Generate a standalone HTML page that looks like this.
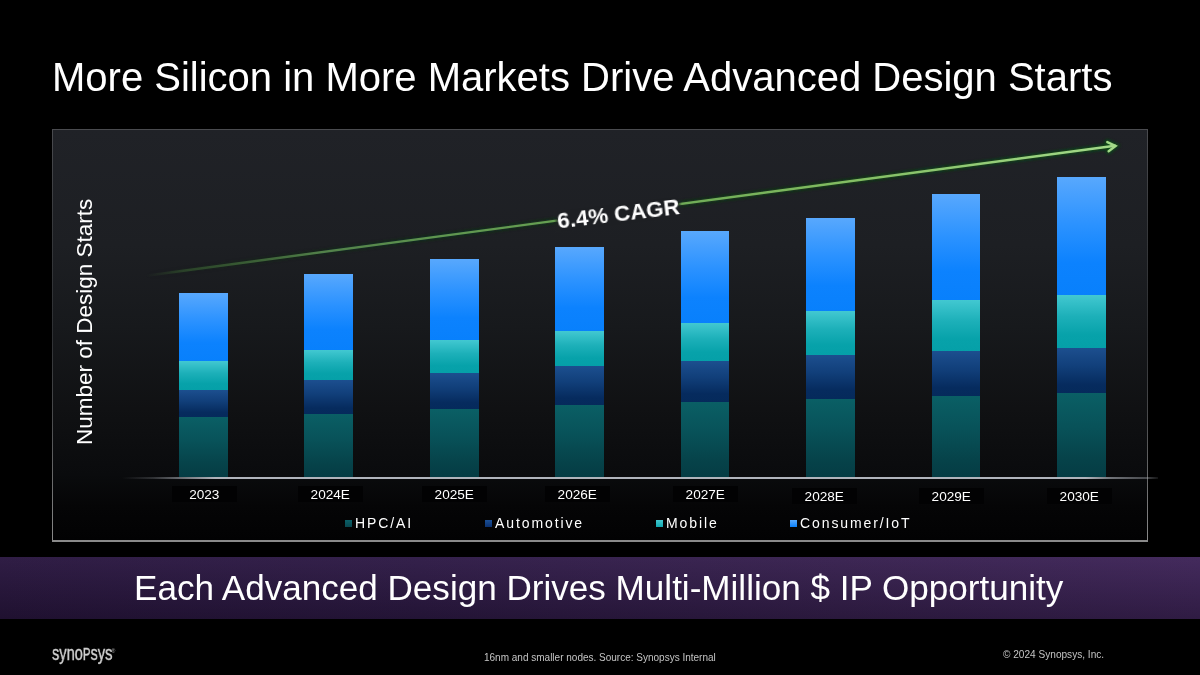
<!DOCTYPE html>
<html><head><meta charset="utf-8">
<style>
*{margin:0;padding:0;box-sizing:border-box}
html,body{width:1200px;height:675px;overflow:hidden;background:#000}
body{position:relative;font-family:"Liberation Sans",sans-serif;color:#fff}
#title,#sub,.lbl,.leg,#foot,#copy,#logo,#ylab,#cagr{will-change:transform}
.abs{position:absolute}
#title{left:52px;top:52.5px;font-size:40px;line-height:48px;white-space:nowrap;color:#fff}
#box{left:52px;top:129px;width:1096px;height:413px;background:linear-gradient(#4a4b4f 0%,#36383b 25%,#2e3033 50%,#4a4b4d 70%,#8a8a8a 100%)}
#boxin{left:1.4px;top:1.3px;right:1.4px;bottom:1.6px;background:linear-gradient(#202227 0%,#1d1f23 28%,#17191c 48%,#101113 68%,#0a0b0d 84%,#050506 92%,#020203 100%)}
.bar{position:absolute;width:48.8px}
.iot{background:linear-gradient(#58a8fd 0%,#2b92ff 40%,#0c82fe 72%,#0880fc 100%)}
.mob{background:linear-gradient(#42c8d1 0%,#1db0b9 40%,#07a2aa 75%,#05a0a8 100%)}
.aut{background:linear-gradient(#1c4f8f 0%,#113f7a 40%,#062b5e 80%,#052a5b 100%)}
.hpc{background:linear-gradient(#0a5f65 0%,#085259 40%,#064249 80%,#053c44 100%)}
#axis{left:122px;top:477.3px;width:1036px;height:1.6px;background:linear-gradient(90deg,rgba(180,184,192,0) 0%,rgba(180,184,192,0.22) 3%,rgba(180,184,192,0.55) 5.5%,#b0b4bc 9%,#b0b4bc 93%,rgba(180,184,192,0.6) 95.5%,rgba(180,184,192,0.35) 99%,rgba(180,184,192,0.1) 100%)}
.lbl{position:absolute;height:15.5px;background:#020203;font-size:13.6px;line-height:17.2px;text-align:center;color:#fff;white-space:nowrap}
.leg{position:absolute;top:515px;font-size:14px;letter-spacing:1.9px;line-height:16px;white-space:nowrap;color:#fff}
.sq{position:absolute;width:7px;height:7px;top:519.5px}
#ylab{left:71.5px;top:444.6px;transform:rotate(-90deg);font-size:22.5px;white-space:nowrap;transform-origin:0 0}
#cagr{left:556px;top:211.3px;transform:rotate(-6.8deg);background:linear-gradient(90deg,rgba(29,31,35,0),#1d1f23 5px,#1d1f23 calc(100% - 5px),rgba(29,31,35,0));line-height:22px;padding:0 3px;margin-left:-3px;font-size:22.4px;font-weight:bold;white-space:nowrap;transform-origin:0 0}
#band{left:0;top:557px;width:1200px;height:62px;background:linear-gradient(90deg,#29163f 0%,#2e1a46 35%,#37204f 70%,#3e2458 100%)}
#bandshade{left:0;top:557px;width:1200px;height:62px;background:linear-gradient(rgba(255,255,255,0.03),rgba(0,0,0,0.24))}
#sub{left:134px;top:568.3px;font-size:35.1px;line-height:40px;white-space:nowrap}
#foot{left:484px;top:651.8px;font-size:10px;color:#c4c4c4;white-space:nowrap}
#copy{left:1002.8px;top:648.6px;font-size:10.1px;color:#c4c4c4;white-space:nowrap}
#logo{left:51.5px;top:641.3px;font-size:20px;line-height:24px;color:#cfcfcf;font-weight:normal;-webkit-text-stroke:0.45px #cfcfcf;white-space:nowrap;transform-origin:0 0;transform:scaleX(0.73)}
</style></head><body>
<div id="title" class="abs">More Silicon in More Markets Drive Advanced Design Starts</div>

<div id="box" class="abs"><div id="boxin" class="abs"></div></div>

<!-- bars -->
<div class="bar iot" style="left:179px;top:293px;height:69px"></div>
<div class="bar mob" style="left:179px;top:361px;height:30px"></div>
<div class="bar aut" style="left:179px;top:390px;height:28px"></div>
<div class="bar hpc" style="left:179px;top:417px;height:60px"></div>

<div class="bar iot" style="left:304.4px;top:274px;height:76.5px"></div>
<div class="bar mob" style="left:304.4px;top:349.5px;height:31px"></div>
<div class="bar aut" style="left:304.4px;top:379.5px;height:35.5px"></div>
<div class="bar hpc" style="left:304.4px;top:414px;height:63px"></div>

<div class="bar iot" style="left:429.8px;top:258.5px;height:82.5px"></div>
<div class="bar mob" style="left:429.8px;top:340px;height:33.7px"></div>
<div class="bar aut" style="left:429.8px;top:372.7px;height:37.3px"></div>
<div class="bar hpc" style="left:429.8px;top:409px;height:68px"></div>

<div class="bar iot" style="left:555px;top:247.4px;height:84.3px"></div>
<div class="bar mob" style="left:555px;top:330.7px;height:35.9px"></div>
<div class="bar aut" style="left:555px;top:365.6px;height:40.2px"></div>
<div class="bar hpc" style="left:555px;top:404.8px;height:72.2px"></div>

<div class="bar iot" style="left:680.7px;top:231.1px;height:92.9px"></div>
<div class="bar mob" style="left:680.7px;top:323px;height:38.7px"></div>
<div class="bar aut" style="left:680.7px;top:360.7px;height:41.8px"></div>
<div class="bar hpc" style="left:680.7px;top:401.5px;height:75.5px"></div>

<div class="bar iot" style="left:806.1px;top:218.3px;height:93.8px"></div>
<div class="bar mob" style="left:806.1px;top:311.1px;height:45.2px"></div>
<div class="bar aut" style="left:806.1px;top:355.3px;height:44.2px"></div>
<div class="bar hpc" style="left:806.1px;top:398.5px;height:78.5px"></div>

<div class="bar iot" style="left:931.6px;top:193.9px;height:107.2px"></div>
<div class="bar mob" style="left:931.6px;top:300.1px;height:52px"></div>
<div class="bar aut" style="left:931.6px;top:351.1px;height:45.6px"></div>
<div class="bar hpc" style="left:931.6px;top:395.7px;height:81.3px"></div>

<div class="bar iot" style="left:1056.9px;top:177px;height:119.4px"></div>
<div class="bar mob" style="left:1056.9px;top:295.4px;height:53.1px"></div>
<div class="bar aut" style="left:1056.9px;top:347.5px;height:46.9px"></div>
<div class="bar hpc" style="left:1056.9px;top:393.4px;height:83.6px"></div>

<div id="axis" class="abs"></div>

<!-- trend line -->
<svg class="abs" style="left:0;top:0" width="1200" height="675" viewBox="0 0 1200 675">
<defs>
<linearGradient id="lg" gradientUnits="userSpaceOnUse" x1="146" y1="276" x2="1118" y2="145">
<stop offset="0" stop-color="#3a6030" stop-opacity="0"/>
<stop offset="0.04" stop-color="#3d6634" stop-opacity="0.5"/>
<stop offset="0.18" stop-color="#52804a" stop-opacity="1"/>
<stop offset="0.3" stop-color="#5f9550"/>
<stop offset="0.5" stop-color="#6aa654"/>
<stop offset="0.7" stop-color="#80ba60"/>
<stop offset="1" stop-color="#a4da8a"/>
</linearGradient>
<linearGradient id="hg" gradientUnits="userSpaceOnUse" x1="146" y1="276" x2="1118" y2="145">
<stop offset="0" stop-color="#0c3a12" stop-opacity="0"/>
<stop offset="0.3" stop-color="#0c3a12" stop-opacity="0.5"/>
<stop offset="1" stop-color="#0c4a14" stop-opacity="1"/>
</linearGradient>
<filter id="blur" x="-10%" y="-50%" width="120%" height="200%">
<feGaussianBlur stdDeviation="1.5"/>
</filter>
</defs>
<g filter="url(#blur)">
<line x1="146" y1="275.7" x2="1115" y2="145.7" stroke="url(#hg)" stroke-width="5" stroke-linecap="round"/>
<polyline points="1107.3,142.1 1115.6,145.9 1108.6,151.3" fill="none" stroke="#0c4a14" stroke-width="5" stroke-linecap="round"/>
</g>
<line x1="146" y1="275.7" x2="1115" y2="145.7" stroke="url(#lg)" stroke-width="2.4" stroke-linecap="round"/>
<polyline points="1107.3,142.1 1115.6,145.9 1108.6,151.3" fill="none" stroke="#a2da88" stroke-width="2.4" stroke-linecap="round" stroke-linejoin="miter"/>
</svg>

<div id="cagr" class="abs">6.4% CAGR</div>

<div id="ylab" class="abs">Number of Design Starts</div>

<!-- x labels -->
<div class="lbl" style="left:172px;top:486.2px;width:64.5px">2023</div>
<div class="lbl" style="left:298px;top:486.2px;width:64.5px">2024E</div>
<div class="lbl" style="left:421.7px;top:486.2px;width:64.5px">2025E</div>
<div class="lbl" style="left:545.3px;top:486.2px;width:64.5px">2026E</div>
<div class="lbl" style="left:673px;top:486.2px;width:64.5px">2027E</div>
<div class="lbl" style="left:791.7px;top:487.6px;width:64.5px">2028E</div>
<div class="lbl" style="left:919px;top:487.6px;width:64.5px">2029E</div>
<div class="lbl" style="left:1047px;top:487.6px;width:64.5px">2030E</div>

<!-- legend -->
<div class="sq" style="left:344.5px;background:linear-gradient(#0b6068,#08474f)"></div>
<div class="leg" style="left:355px">HPC/AI</div>
<div class="sq" style="left:485px;background:linear-gradient(#1b5096,#0a3070)"></div>
<div class="leg" style="left:495px">Automotive</div>
<div class="sq" style="left:655.5px;background:linear-gradient(#44c9d0,#10a8b0)"></div>
<div class="leg" style="left:666px">Mobile</div>
<div class="sq" style="left:790px;background:linear-gradient(#5aaafc,#0a80fb)"></div>
<div class="leg" style="left:800px">Consumer/IoT</div>

<div id="band" class="abs"></div>
<div id="bandshade" class="abs"></div>
<div id="sub" class="abs">Each Advanced Design Drives Multi-Million $ IP Opportunity</div>

<div id="logo" class="abs">syno<span style="font-size:15.6px">P</span>sys</div>
<div class="abs" style="left:111.2px;top:648.6px;font-size:5.5px;line-height:5.5px;color:#aaa">®</div>
<div id="foot" class="abs">16nm and smaller nodes. Source: Synopsys Internal</div>
<div id="copy" class="abs">© 2024 Synopsys, Inc.</div>
</body></html>
